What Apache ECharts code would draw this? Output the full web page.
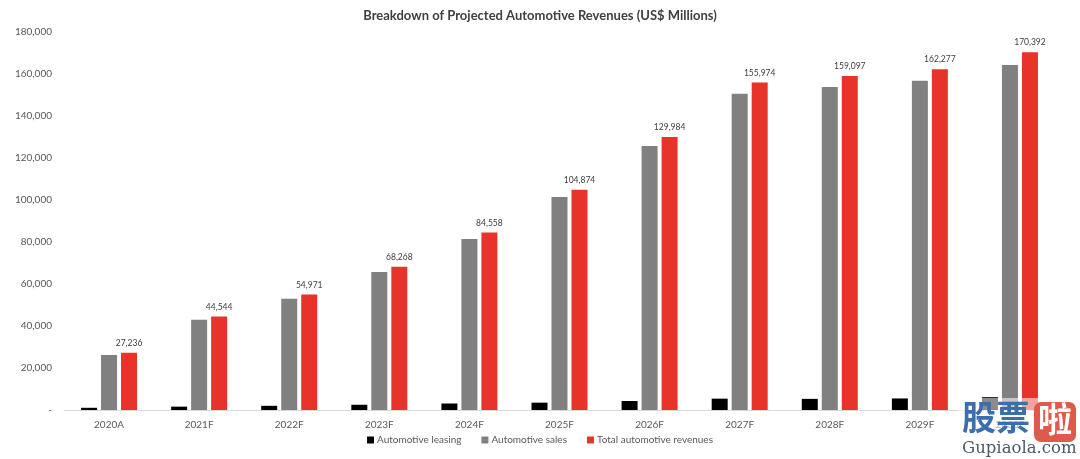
<!DOCTYPE html>
<html>
<head>
<meta charset="utf-8">
<script src="https://cdn.jsdelivr.net/npm/echarts@6/dist/echarts.min.js"></script>
<style>
html,body{margin:0;padding:0;background:#fff;}
#chart{width:1080px;height:459px;}
</style>
</head>
<body>
<div id="chart"></div>
<script>
const categories = ['2020A','2021F','2022F','2023F','2024F','2025F','2026F','2027F','2028F','2029F','2030F'];
const leasing = [1052, 1600, 2000, 2500, 3100, 3500, 4300, 5400, 5300, 5500, 6100];
const sales = [26184, 42944, 52971, 65768, 81458, 101374, 125684, 150574, 153797, 156777, 164292];
const total = [27236, 44544, 54971, 68268, 84558, 104874, 129984, 155974, 159097, 162277, 170392];
const yTicks = { min: 0, max: 180000, interval: 20000 };

const FONT = 'Lato, "Open Sans", sans-serif';
const fmt = v => v === 0 ? '-' : v.toLocaleString('en-US');

const chart = echarts.init(document.getElementById('chart'));
chart.setOption({
  animation: false,
  backgroundColor: '#ffffff',
  title: {
    text: 'Breakdown of Projected Automotive Revenues (US$ Millions)',
    left: 'center', top: 4,
    textStyle: { fontFamily: FONT, fontSize: 13, fontWeight: 'bold', color: '#404040' }
  },
  legend: {
    bottom: 9, left: 'center',
    itemWidth: 7, itemHeight: 7, itemGap: 20,
    icon: 'rect',
    textStyle: { fontFamily: FONT, fontSize: 10, color: '#595959', padding: [0,0,0,-2] },
    data: ['Automotive leasing', 'Automotive sales', 'Total automotive revenues']
  },
  grid: { left: 64, right: 25, top: 32, bottom: 49 },
  xAxis: {
    type: 'category', data: categories,
    axisLine: { lineStyle: { color: '#d9d9d9', width: 1 } },
    axisTick: { show: false },
    axisLabel: { fontFamily: FONT, fontSize: 10, color: '#595959', margin: 10 }
  },
  yAxis: {
    type: 'value', min: yTicks.min, max: yTicks.max, interval: yTicks.interval,
    splitLine: { show: false },
    axisLine: { show: false }, axisTick: { show: false },
    axisLabel: { fontFamily: FONT, fontSize: 10, color: '#595959', margin: 12, formatter: fmt }
  },
  series: [
    { name: 'Automotive leasing', type: 'bar', data: leasing, barWidth: 16, barGap: '25%',
      itemStyle: { color: '#000000' } },
    { name: 'Automotive sales', type: 'bar', data: sales, barWidth: 16, barGap: '25%',
      itemStyle: { color: '#808080' } },
    { name: 'Total automotive revenues', type: 'bar', data: total, barWidth: 16, barGap: '25%',
      itemStyle: { color: '#e8332a' },
      label: { show: true, position: 'top', distance: 5, fontFamily: FONT, fontSize: 8.5, color: '#404040',
        formatter: p => p.value.toLocaleString('en-US') } }
  ],
  graphic: [
    { type: 'rect', left: 958, top: 398, shape: { width: 122, height: 61 }, style: { fill: '#ffffff', opacity: 0.55 }, z: 100 },
    { type: 'text', left: 962, top: 400, style: { text: '股票', fontFamily: '"Noto Sans CJK SC"', fontWeight: 'bold', fontSize: 34, fill: '#3a6fae' }, z: 101 },
    { type: 'rect', left: 1034, top: 402, shape: { width: 42, height: 40, r: 7 }, style: { fill: '#de5a4a' }, z: 101 },
    { type: 'text', left: 1038, top: 402, style: { text: '啦', fontFamily: '"Noto Sans CJK SC"', fontWeight: 'bold', fontSize: 34, fill: '#ffffff' }, z: 102 },
    { type: 'text', left: 962, top: 440, style: { text: 'Gupiaola.com', fontFamily: '"DejaVu Serif", serif', fontSize: 16.5, fill: '#4a5a6a' }, z: 101 }
  ]
});
</script>
</body>
</html>
